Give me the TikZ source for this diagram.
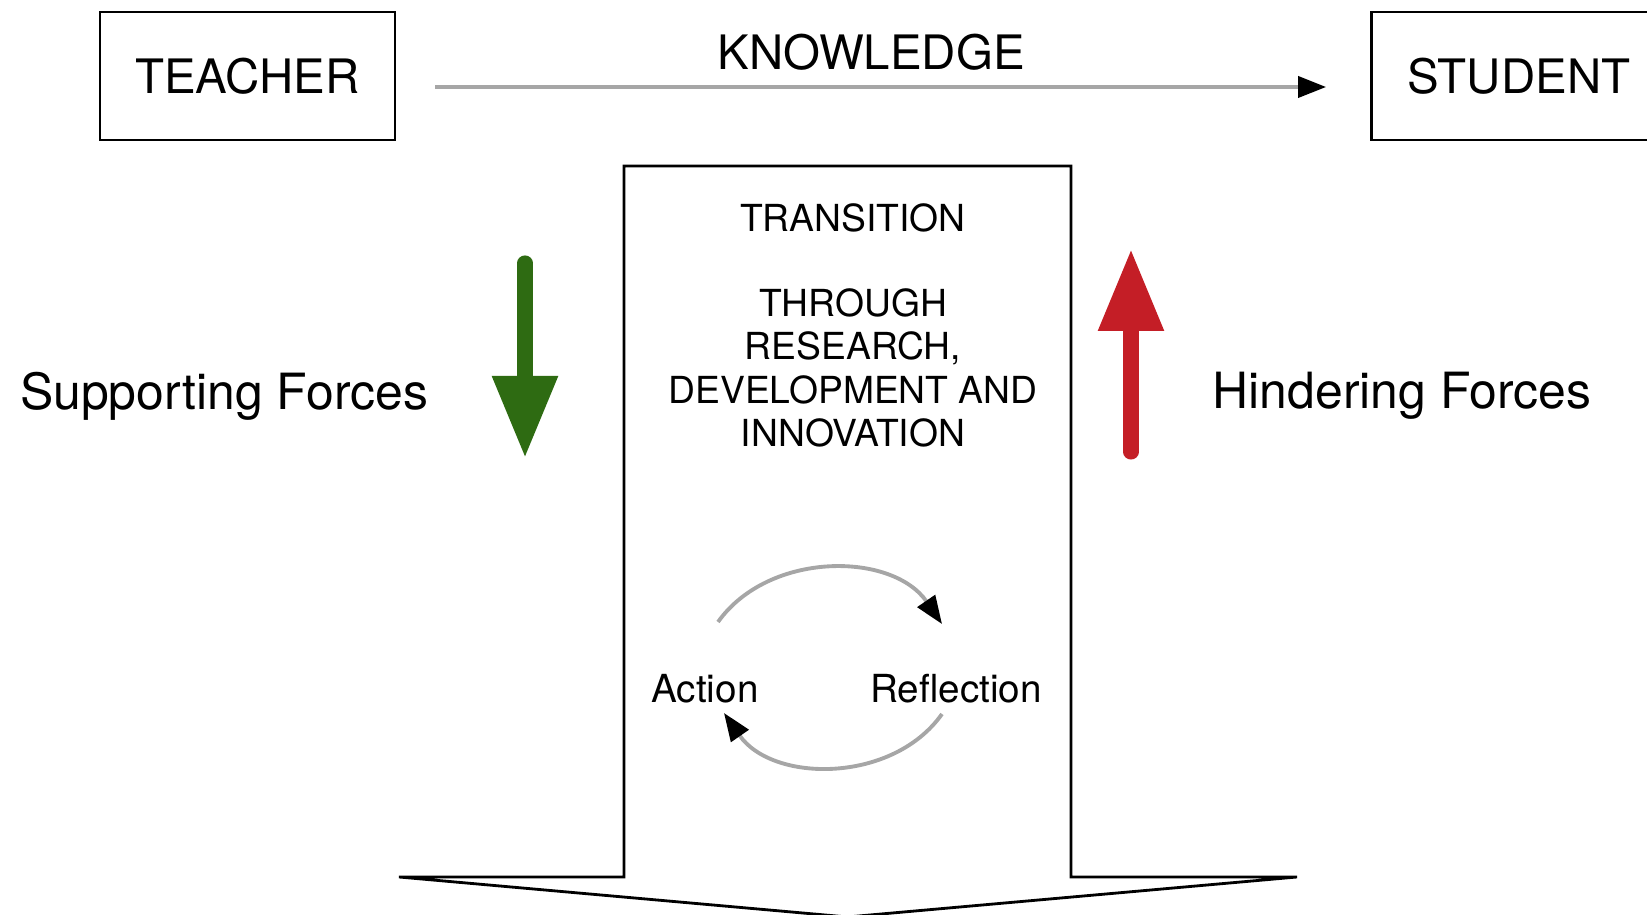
\documentclass[tikz,border=0pt]{standalone}
\usepackage{fontspec}
\setmainfont{TeX Gyre Heros}
\usetikzlibrary{arrows.meta}
\definecolor{supgreen}{RGB}{46,107,18}
\definecolor{hindred}{RGB}{196,30,38}
\tikzset{
  box/.style={draw, line width=0.8pt, minimum width=2.95cm, minimum height=1.28cm, font=\fontsize{13.5}{16}\selectfont},
  flow/.style={draw=gray!70, line width=1.1pt, -{Triangle[length=0.28cm,width=0.21cm,black]}},
  force/.style={line width=4.3pt, line cap=round, -{Triangle[length=0.82cm,width=0.62cm]}},
  forcetext/.style={font=\fontsize{14.2}{17}\selectfont},
  cyctext/.style={font=\fontsize{11}{13}\selectfont},
}
\begin{document}
\begin{tikzpicture}
    \clip (0,0) rectangle (16.47,9.15); % Rahmen
    \node[box] (teacher) at (2.475,8.39) {TEACHER};
    \node[box] (student) at (15.19,8.39) {STUDENT};
    \node[font=\fontsize{13.5}{16}\selectfont] (knowledge) at (8.71,8.625) {KNOWLEDGE};
    \draw[flow] ([xshift=0.39cm,yshift=-0.11cm]teacher.east) -- ([xshift=-0.44cm,yshift=-0.11cm]student.west); % Wissen

    \draw[line width=0.8pt, line join=miter]
          (6.24,7.49) -- (10.71,7.49) -- (10.71,0.38) -- (12.97,0.38) -- (8.475,-0.02)
          -- (3.99,0.38) -- (6.24,0.38) -- cycle; % grosser Pfeil
    \node[font=\fontsize{10.6}{12.4}\selectfont] (transition) at (8.53,6.975) {TRANSITION};
    \node[font=\fontsize{10.6}{12.4}\selectfont, align=center, inner sep=0pt] (through) at (8.53,5.47)
          {THROUGH\\RESEARCH,\\DEVELOPMENT AND\\INNOVATION};

    \node[forcetext] (supporting) at (2.24,5.19) {Supporting Forces};
    \node[forcetext] (hindering) at (14.02,5.19) {Hindering Forces};
    \draw[force, supgreen] (5.25,6.52) -- (5.25,4.57); % gruen
    \draw[force, hindred] (11.31,4.63) -- (11.31,6.66); % rot

    \node[cyctext] (action) at (7.05,2.26) {Action};
    \node[cyctext] (reflection) at (9.56,2.26) {Reflection};
    \draw[flow] ([shift={(0.13,0.67)}]action.center) to[bend left=55] ([shift={(-0.14,0.65)}]reflection.center);
    \draw[flow] ([shift={(-0.14,-0.25)}]reflection.center) to[bend left=55] ([shift={(0.19,-0.24)}]action.center); % Kreislauf
\end{tikzpicture}
\end{document}
